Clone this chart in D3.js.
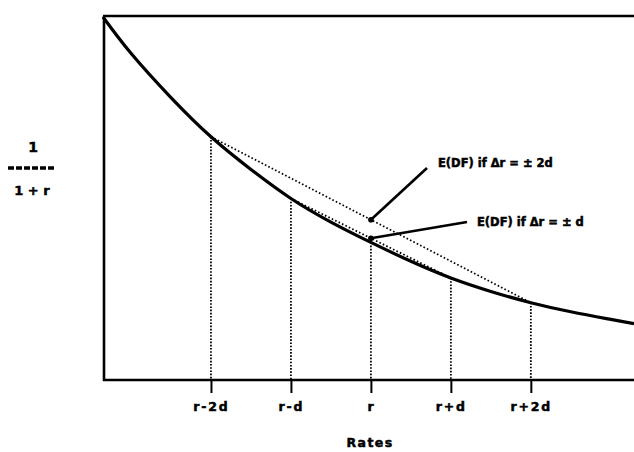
<!DOCTYPE html>
<html>
<head>
<meta charset="utf-8">
<script src="https://cdn.jsdelivr.net/npm/d3@7"></script>
<style>
  html, body { margin: 0; padding: 0; background: #fff; }
  svg { display: block; }
  text { font-family: "DejaVu Sans", sans-serif; font-weight: bold; fill: #000; stroke: #000; stroke-width: 0.5px; }
</style>
</head>
<body>
<svg id="chart" width="634" height="452"></svg>
<script>
// ---- data (x in units of d around r; y = discount factor, relative) ----
const curveX = [-3.35, -3.0, -2.5, -2, -1.5, -1, -0.5, 0, 0.5, 1, 1.5, 2, 2.5, 3.0, 3.29];
const curveY = [1.000, 0.900, 0.778, 0.670, 0.580, 0.500, 0.435, 0.379, 0.327, 0.281, 0.244, 0.213, 0.188, 0.167, 0.155];
const tickValues = [-2, -1, 0, 1, 2];
const tickLabels = ["r\u20112d", "r\u2011d", "r", "r+d", "r+2d"];
const chordPairs = [[-2, 2], [-1, 1]];
const annotationLabels = ["E(DF) if \u0394r = \u00b1 2d", "E(DF) if \u0394r = \u00b1 d"];
const xTitle = "Rates";
const yTitleTop = "1";
const yTitleBottom = "1 + r";

// ---- layout ----
const svg = d3.select("#chart");
const mLeft = 103, mRight = 634, mTop = 16, mBottom = 380;

const x = d3.scaleLinear().domain([-3.35, 3.29]).range([mLeft, mRight]);
const y = d3.scaleLinear().domain([0, 1]).range([mBottom, mTop + 1]);

const valueAt = u => curveY[curveX.indexOf(u)];

// frame: left axis, top border
svg.append("line").attr("x1", mLeft + 1).attr("x2", mLeft + 1).attr("y1", mTop).attr("y2", mBottom + 1)
  .attr("stroke", "#000").attr("stroke-width", 2.6);
svg.append("line").attr("x1", mLeft).attr("x2", mRight).attr("y1", mTop).attr("y2", mTop)
  .attr("stroke", "#000").attr("stroke-width", 2.6);

// bottom axis via d3.axisBottom
const xAxis = d3.axisBottom(x)
  .tickValues(tickValues)
  .tickFormat((d, i) => tickLabels[i])
  .tickSize(13)
  .tickPadding(9);
const gx = svg.append("g").attr("transform", `translate(0,${mBottom})`).call(xAxis);
gx.select(".domain").attr("d", `M${mLeft},0H${mRight}`).attr("stroke-width", 2.6);
gx.selectAll(".tick line").attr("stroke-width", 2);
gx.selectAll(".tick text")
  .style("font-family", "DejaVu Sans, sans-serif")
  .style("font-weight", "bold")
  .style("font-size", "12.5px")
  .style("letter-spacing", "1.8px")
  .style("stroke", "#000").style("stroke-width", "0.5px")
  .attr("fill", "#000");

// vertical dotted lines from curve to axis
svg.append("g").selectAll("line").data(tickValues).join("line")
  .attr("x1", d => x(d)).attr("x2", d => x(d))
  .attr("y1", d => y(valueAt(d))).attr("y2", mBottom)
  .attr("stroke", "#000").attr("stroke-width", 1.8)
  .attr("stroke-dasharray", "1.6,1.6");

// dotted chords
svg.append("g").selectAll("line").data(chordPairs).join("line")
  .attr("x1", d => x(d[0])).attr("y1", d => y(valueAt(d[0])))
  .attr("x2", d => x(d[1])).attr("y2", d => y(valueAt(d[1])))
  .attr("stroke", "#000").attr("stroke-width", 1.8)
  .attr("stroke-dasharray", "1.6,2.2");

// main curve
const line = d3.line().x((d, i) => x(curveX[i])).y(d => y(d)).curve(d3.curveNatural);
svg.append("path").datum(curveY).attr("d", line)
  .attr("fill", "none").attr("stroke", "#000").attr("stroke-width", 3.2);

// annotations: expected DF at r (chord midpoints)
const annPoints = chordPairs.map(p => ({ u: 0, v: (valueAt(p[0]) + valueAt(p[1])) / 2 }));
const annEnds = [[427, 168], [467, 222]];
const annText = [[438, 167], [477, 226]];
annPoints.forEach((p, i) => {
  const px = x(p.u), py = y(p.v);
  svg.append("line").attr("x1", px).attr("y1", py)
    .attr("x2", annEnds[i][0]).attr("y2", annEnds[i][1])
    .attr("stroke", "#000").attr("stroke-width", 2.6);
  svg.append("circle").attr("cx", px).attr("cy", py).attr("r", 2.8).attr("fill", "#000");
  svg.append("text").attr("x", annText[i][0]).attr("y", annText[i][1])
    .style("font-size", "11.5px").text(annotationLabels[i]);
});

// axis titles
svg.append("text").attr("x", 370).attr("y", 447).attr("text-anchor", "middle")
  .style("font-size", "12.5px").style("letter-spacing", "1.4px").text(xTitle);
svg.append("text").attr("x", 33).attr("y", 152).attr("text-anchor", "middle")
  .style("font-size", "14px").text(yTitleTop);
svg.append("line").attr("x1", 8).attr("x2", 56).attr("y1", 168).attr("y2", 168)
  .attr("stroke", "#000").attr("stroke-width", 3.5).attr("stroke-dasharray", "6,2");
svg.append("text").attr("x", 32).attr("y", 195).attr("text-anchor", "middle")
  .style("font-size", "13px").text(yTitleBottom);
</script>
</body>
</html>
